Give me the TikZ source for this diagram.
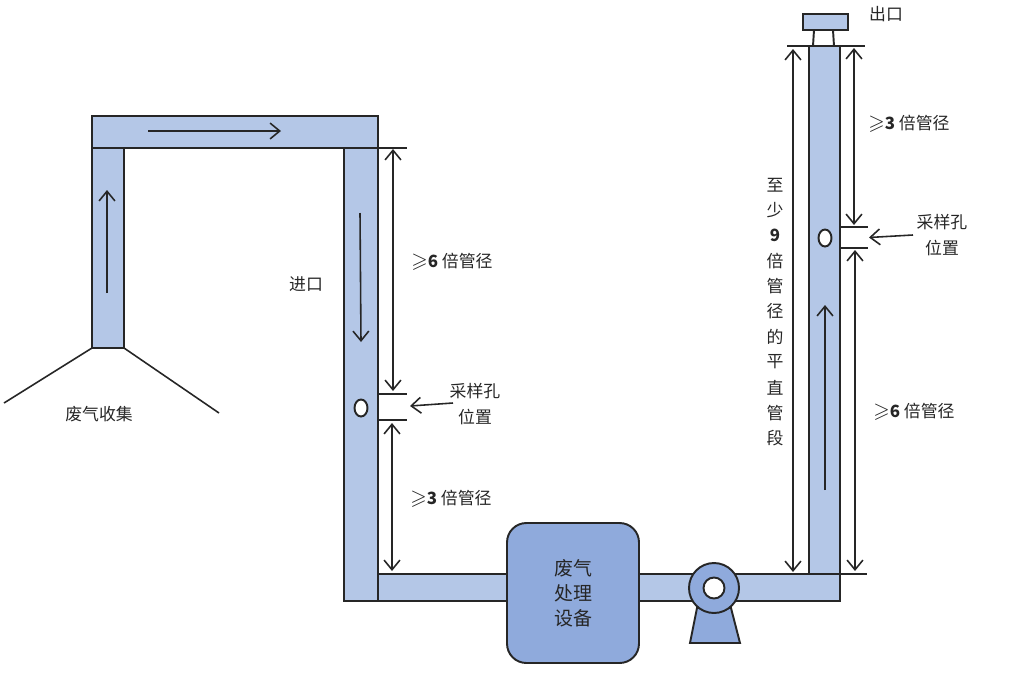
\documentclass[tikz,border=0pt]{standalone}
\usepackage{amsmath, amssymb}
\usepackage{fontspec}
\setmainfont{Noto Sans CJK SC}
\usetikzlibrary{arrows.meta}
\tikzset{
  duct/.style={draw=black!85, line width=1.1pt, fill=ductblue},
  unit/.style={draw=black!85, line width=1.1pt, fill=unitblue},
  hole/.style={draw=black!85, line width=1.1pt, fill=white},
  flow/.style={draw=black!85, line width=0.9pt, -{Straight Barb[length=5.5pt,width=9pt,line width=0.9pt]}},
  span/.style={draw=black!85, line width=0.9pt, {Straight Barb[length=5.5pt,width=9pt,line width=0.9pt]}-{Straight Barb[length=5.5pt,width=9pt,line width=0.9pt]}},
  tick/.style={draw=black!85, line width=0.9pt},
  lbl/.style={font=\fontsize{9.6}{11}\selectfont, text=black!85, inner sep=0pt}
}
\definecolor{ductblue}{HTML}{B4C7E7}
\definecolor{unitblue}{HTML}{8FAADC}
\newcommand{\atleast}[1]{$\mathrel{\scalebox{1.25}{$\geqslant$}}$\textbf{#1}}

\begin{document}
\begin{tikzpicture}[x=0.02cm, y=-0.02cm]
  \useasboundingbox (0,0) rectangle (1024,673);

  % ducts
  \draw[duct] (92,148) rectangle (124,348);
  \draw[duct] (92,116) rectangle (378,148);
  \draw[duct] (344,148) rectangle (378,601);
  \draw[duct] (378,574) rectangle (840,601);
  \draw[duct] (809,46) rectangle (840,574);
  \draw[duct] (803,14) rectangle (848,30);
  \draw[hole] (814,30) -- (813,46) -- (834,46) -- (833,30) -- cycle;

  % hood
  \coordinate (H1) at (92,348);
  \coordinate (H2) at (124,348);
  \coordinate (H3) at (4,403);
  \coordinate (H4) at (219,413);
  \draw[tick] (H1) -- (H3);
  \draw[tick] (H2) -- (H4);

  % sampling holes
  \draw[hole] (361,408) ellipse (6.5 and 8.5);
  \draw[hole] (825,238) ellipse (6.5 and 8.5);

  % treatment unit and fan
  \node[unit, rounded corners=11pt, minimum width=2.64cm, minimum height=2.8cm, align=center,
        font=\fontsize{10.8}{14.2}\selectfont, text=black!85, inner sep=0pt] (unit) at (573,593)
        {废气\\处理\\设备};
  \draw[unit] (697,608) -- (731,608) -- (740,643) -- (690,643) -- cycle;
  \draw[unit] (714,588) circle (25);
  \draw[hole] (714,588) circle (10.5);

  % flow direction
  \coordinate (F1) at (148,131);
  \coordinate (F2) at (281,131);
  \coordinate (F3) at (107,293);
  \coordinate (F4) at (107,190);
  \coordinate (F5) at (360,213);
  \coordinate (F6) at (361,342);
  \coordinate (F7) at (825,490);
  \coordinate (F8) at (825,305);
  \draw[flow] (F1) -- (F2);
  \draw[flow] (F3) -- (F4);
  \draw[flow] (F5) -- (F6);
  \draw[flow] (F7) -- (F8);

  % witness lines
  \draw[tick] (378,148) -- (407,148);
  \draw[tick] (378,394) -- (407,394);
  \draw[tick] (378,420) -- (407,420);
  \draw[tick] (787,46) -- (865,46);
  \draw[tick] (840,227) -- (868,227);
  \draw[tick] (840,248) -- (868,248);
  \draw[tick] (840,574) -- (867,574);

  % spans
  \coordinate (A1) at (393,149);
  \coordinate (A2) at (393,391);
  \coordinate (A3) at (392,423);
  \coordinate (A4) at (392,571);
  \coordinate (B1) at (854,48);
  \coordinate (B2) at (854,225);
  \coordinate (B3) at (855,250);
  \coordinate (B4) at (855,571);
  \coordinate (C1) at (793,49);
  \coordinate (C2) at (793,572);
  \draw[span] (A1) -- (A2);
  \draw[span] (A3) -- (A4);
  \draw[span] (B1) -- (B2);
  \draw[span] (B3) -- (B4);
  \draw[span] (C1) -- (C2);

  % labels
  \node[lbl] (outlet) at (886,14) {出口};
  \node[lbl] (inlet) at (306,284) {进口};
  \node[lbl] (hood) at (99,414) {废气收集};
  \node[lbl] (upA) at (452,262) {\atleast{6} 倍管径};
  \node[lbl] (downA) at (451,499) {\atleast{3} 倍管径};
  \node[lbl] (upB) at (909,124) {\atleast{3} 倍管径};
  \node[lbl] (downB) at (914,412) {\atleast{6} 倍管径};
  \node[lbl] (portA) at (475,391) {采样孔};
  \node[lbl] (portAb) at (475,417) {位置};
  \node[lbl] (portB) at (942,222) {采样孔};
  \node[lbl] (portBb) at (942,248) {位置};
  \foreach \c [count=\i] in {至,少,\textbf{9},倍,管,径,的,平,直,管,段}
    \node[lbl] (side\i) at (775,{185+25.3*(\i-1)}) {\c};

  % pointers to the ports
  \coordinate (PA) at (453,403);
  \coordinate (PAe) at (410,406);
  \coordinate (PB) at (913,235);
  \coordinate (PBe) at (869,237.5);
  \draw[flow] (PA) -- (PAe);
  \draw[flow] (PB) -- (PBe);
\end{tikzpicture}
\end{document}
